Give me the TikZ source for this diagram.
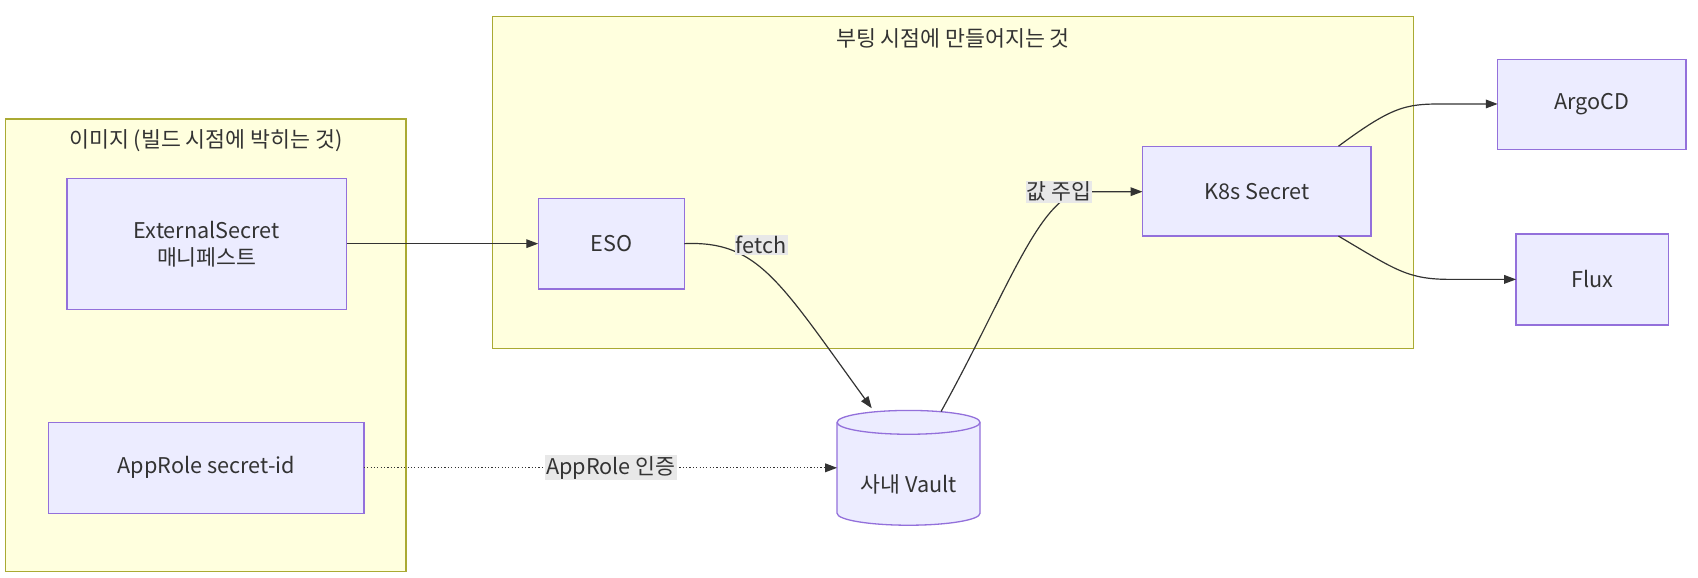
\documentclass[tikz,border=0pt]{standalone}
\usepackage{fontspec}
\setmainfont{Noto Sans CJK KR}
\usetikzlibrary{arrows.meta}
\definecolor{bx}{HTML}{9370DB}
\definecolor{bf}{HTML}{ECECFF}
\definecolor{cb}{HTML}{AAAA33}
\definecolor{cf}{HTML}{FFFFDE}
\definecolor{lb}{HTML}{E8E8E8}
\definecolor{tx}{HTML}{333333}
\begin{document}
\begin{tikzpicture}[x=1pt,y=-1pt,
  every node/.style={font=\fontsize{20}{25}\selectfont,text=tx},
  cl/.style={draw=cb,fill=cf,line width=1.2pt},
  box/.style={draw=bx,fill=bf,line width=1.2pt,rectangle},
  ar/.style={draw=tx,line width=1.1pt,-{Triangle[length=11pt,width=8pt]}},
  lab/.style={fill=lb,inner sep=1pt}]
\useasboundingbox (0,0) rectangle (1568,533);
\fill[white] (0,0) rectangle (1568,533);
\draw[cl] (5,110) rectangle (375,528);
\node (t1) at (190,130) {이미지 (빌드 시점에 박히는 것)};
\draw[cl] (455,15) rectangle (1305,322);
\node (t2) at (880,35) {부팅 시점에 만들어지는 것};
\draw[box] (62,165) rectangle (320,286);
\node[align=center] (es) at (191,225.5) {ExternalSecret\\매니페스트};
\coordinate (esR) at (320,225);
\draw[box] (45,390) rectangle (336,474);
\node (ap) at (190.5,432) {AppRole secret-id};
\coordinate (apR) at (336,432);
\draw[box] (497,183) rectangle (632,267);
\node (eso) at (564.5,225) {ESO};
\coordinate (esoL) at (497,225);
\coordinate (esoR) at (632,225);
\draw[box] (1055,135) rectangle (1266,218);
\node (k8) at (1160.5,176.5) {K8s Secret};
\coordinate (k8L) at (1055,177);
\coordinate (k8T) at (1236,135);
\coordinate (k8B) at (1236,218);
\draw[box] (1383,55) rectangle (1557,138);
\node (argo) at (1470,96.5) {ArgoCD};
\coordinate (argoL) at (1383,96);
\draw[box] (1400,216) rectangle (1541,300);
\node (flux) at (1470.5,258) {Flux};
\coordinate (fluxL) at (1400,258);
% cylinder
\draw[box] (773,390) arc[x radius=66,y radius=11,start angle=180,end angle=360] -- (905,474) arc[x radius=66,y radius=11,start angle=0,end angle=180] -- cycle;
\draw[bx,line width=1.2pt] (773,390) arc[x radius=66,y radius=11,start angle=180,end angle=0];
\node (v) at (839,447) {사내 Vault};
\coordinate (vL) at (773,432);
\coordinate (vT) at (805,377);
\coordinate (vT2) at (869,380);
% edges
\draw[ar] (esR) -- (esoL);
\draw[ar] (esoR) .. controls (700,222) and (720,260) .. (vT);
\node[lab] (lf) at (703,226) {fetch};
\draw[ar] (vT2) .. controls (930,270) and (960,180) .. (1000,177) -- (k8L);
\node[lab] (lv) at (978,177) {값 주입};
\draw[ar] (k8T) .. controls (1290,95) and (1300,96) .. (1340,96) -- (argoL);
\draw[ar] (k8B) .. controls (1290,250) and (1300,258) .. (1340,258) -- (fluxL);
\draw[ar,dotted,line width=1.2pt] (apR) -- (vL);
\node[lab] (la) at (564,432) {AppRole 인증};
\end{tikzpicture}
\end{document}
